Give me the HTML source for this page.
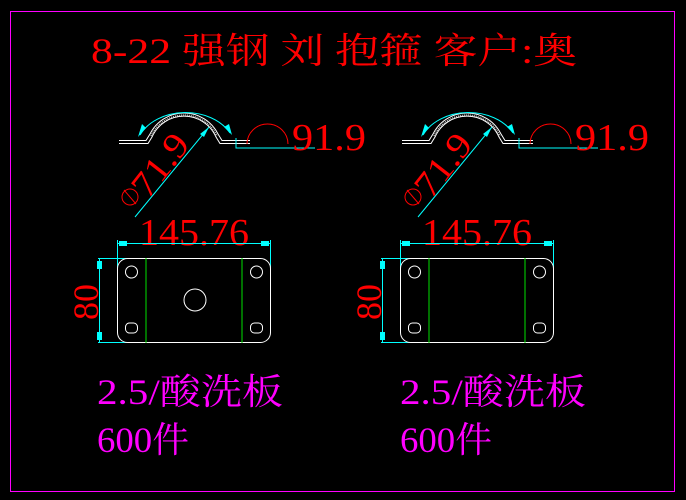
<!DOCTYPE html>
<html><head><meta charset="utf-8"><style>
html,body{margin:0;padding:0;background:#000;}
svg{display:block}
text{font-family:"Liberation Serif","Noto Serif CJK SC",serif;}
</style></head><body>
<svg width="686" height="500" viewBox="0 0 686 500" xmlns="http://www.w3.org/2000/svg">
<rect x="10.5" y="11.5" width="664" height="480" fill="none" stroke="#ff00ff" stroke-width="1"/>
<text x="91" y="63" fill="#ff0000" font-size="36" textLength="486" lengthAdjust="spacingAndGlyphs" font-family="Liberation Serif, Noto Serif CJK SC, serif">8-22 强钢 刘  抱箍 客户:奥</text>

<defs>
<g id="top">
  <path d="M119 140.5 H146 L150 134 A38 38 0 0 1 218 134 L222 140.5 H250" fill="none" stroke="#fff" stroke-width="1"/>
  <path d="M119 143.5 H148 L152 137 A35 35 0 0 1 216 137 L220 143.5 H250" fill="none" stroke="#fff" stroke-width="1"/>
  <path d="M151 136 A36.5 36.5 0 0 1 217 136" fill="none" stroke="#ccc" stroke-width="1.5" stroke-dasharray="1 1"/>
  <path d="M140 135 A50 38 0 0 1 230 133" fill="none" stroke="#00ffff" stroke-width="1"/>
  <polygon points="138,137 142,124 146,128" fill="#00ffff"/>
  <polygon points="232,135 224,127 229,124" fill="#00ffff"/>
  <path d="M247 144 A20.5 20 0 0 1 288 144" fill="none" stroke="#ff0000" stroke-width="1"/>
  <path d="M236 138 V148 H315" fill="none" stroke="#00ffff" stroke-width="1"/>
  <text x="292" y="150" fill="#ff0000" font-size="38" textLength="74" lengthAdjust="spacingAndGlyphs">91.9</text>
  <line x1="135" y1="217" x2="209" y2="127" stroke="#00ffff" stroke-width="1"/>
  <polygon points="209,127 200,134 204,137" fill="#00ffff"/>
  <circle cx="130" cy="197" r="8" fill="none" stroke="#ff0000" stroke-width="1"/>
  <line x1="124" y1="190" x2="136" y2="204" stroke="#ff0000" stroke-width="1"/>
  <text transform="translate(148,200) rotate(-52)" fill="#ff0000" font-size="36" textLength="70" lengthAdjust="spacingAndGlyphs">71.9</text>
  <text x="139" y="245" fill="#ff0000" font-size="38" textLength="110" lengthAdjust="spacingAndGlyphs">145.76</text>
  <line x1="117" y1="243.5" x2="270" y2="243.5" stroke="#00ffff" stroke-width="1"/>
  <line x1="117.5" y1="240" x2="117.5" y2="268" stroke="#00ffff" stroke-width="1"/>
  <line x1="270.5" y1="240" x2="270.5" y2="268" stroke="#00ffff" stroke-width="1"/>
  <rect x="119" y="241" width="8" height="5" fill="#00ffff"/>
  <rect x="261" y="241" width="8" height="5" fill="#00ffff"/>
  <line x1="99.5" y1="258" x2="99.5" y2="342" stroke="#00ffff" stroke-width="1"/>
  <line x1="98" y1="258.5" x2="127" y2="258.5" stroke="#00ffff" stroke-width="1"/>
  <line x1="98" y1="342.5" x2="127" y2="342.5" stroke="#00ffff" stroke-width="1"/>
  <rect x="97" y="261" width="5" height="8" fill="#00ffff"/>
  <rect x="97" y="332" width="5" height="8" fill="#00ffff"/>
  <text transform="translate(98,320) rotate(-90)" fill="#ff0000" font-size="36" textLength="36" lengthAdjust="spacingAndGlyphs">80</text>
  <rect x="117.5" y="258.5" width="153" height="84" rx="10" fill="none" stroke="#fff" stroke-width="1"/>
  <line x1="146" y1="258" x2="146" y2="343" stroke="#00e000" stroke-width="1"/>
  <line x1="242" y1="258" x2="242" y2="343" stroke="#00e000" stroke-width="1"/>
  <circle cx="131.5" cy="272" r="6" fill="none" stroke="#fff" stroke-width="1"/>
  <circle cx="256.5" cy="272" r="6" fill="none" stroke="#fff" stroke-width="1"/>
  <rect x="125.5" y="323" width="12" height="10" rx="4" fill="none" stroke="#fff" stroke-width="1"/>
  <rect x="250.5" y="323" width="12" height="10" rx="4" fill="none" stroke="#fff" stroke-width="1"/>
</g>
</defs>
<use href="#top"/>
<circle cx="195" cy="300" r="11" fill="none" stroke="#fff" stroke-width="1"/>
<use href="#top" transform="translate(283,0)"/>

<g fill="#ff00ff" font-size="36">
<text x="97" y="404" textLength="186" lengthAdjust="spacingAndGlyphs">2.5/酸洗板</text>
<text x="97" y="452" textLength="92" lengthAdjust="spacingAndGlyphs">600件</text>
<text x="400" y="404" textLength="186" lengthAdjust="spacingAndGlyphs">2.5/酸洗板</text>
<text x="400" y="452" textLength="92" lengthAdjust="spacingAndGlyphs">600件</text>
</g>
</svg>
</body></html>
